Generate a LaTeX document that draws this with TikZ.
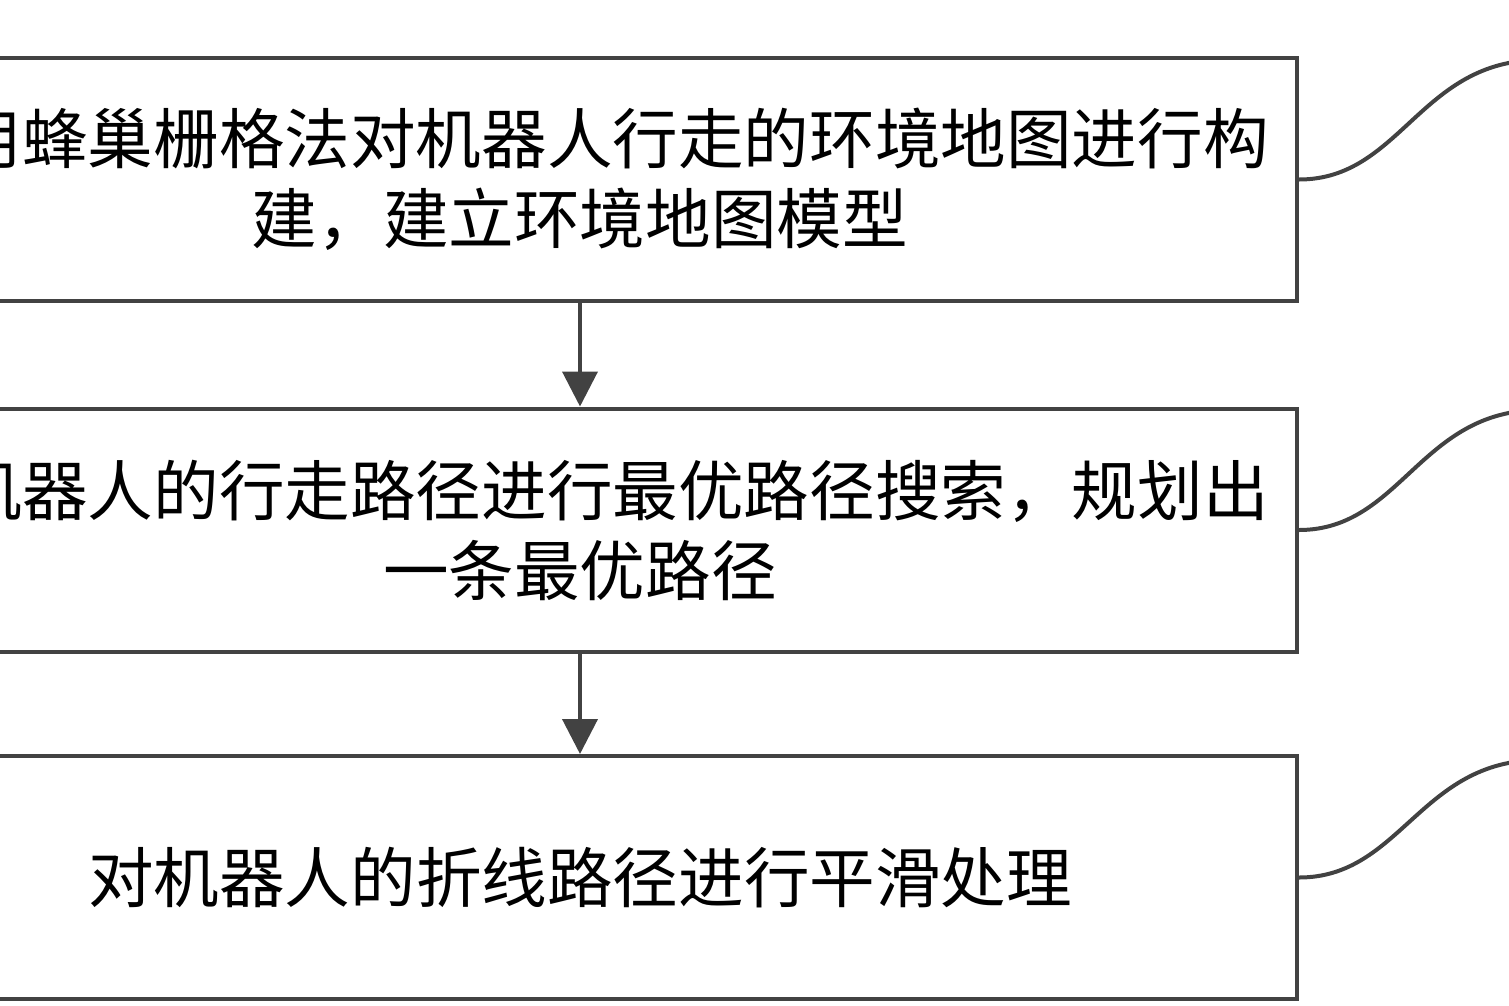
\documentclass[tikz,border=0pt]{standalone}
\usepackage{fontspec}
\newfontfamily\cjk{Noto Sans CJK SC}
\usetikzlibrary{arrows.meta}
\definecolor{linegray}{HTML}{424242}
\tikzset{
  stepbox/.style={draw=linegray, line width=4pt, minimum width=1434pt, minimum height=243pt,
    inner sep=0pt, align=center, font=\cjk\fontsize{65.6}{80}\selectfont},
  flow/.style={draw=linegray, line width=4pt, -{Triangle[width=35pt,length=35pt]}},
  lead/.style={draw=linegray, line width=4pt, line cap=round}
}
\begin{document}
\begin{tikzpicture}[x=1pt, y=-1pt]
\clip (0,0) rectangle (1509,1005);
% steps
\node[stepbox] (b1) at (580,179.5) {\phantom{利}用蜂巢栅格法对机器人行走的环境地图进行构\\建，建立环境地图模型};
\node[stepbox] (b2) at (580,530) {\phantom{对}机器人的行走路径进行最优路径搜索，规划出\\一条最优路径};
\node[stepbox] (b3) at (580,877.5) {对机器人的折线路径进行平滑处理};
\draw[flow] (b1) -- (b2);
\draw[flow] (b2) -- (b3);
% leaders to the step labels
\coordinate (s1) at (1540,60);
\coordinate (s2) at (1540,410);
\coordinate (s3) at (1540,760);
\draw[lead] (b1.east) .. controls +(102,0) and +(-120,0) .. (s1);
\draw[lead] (b2.east) .. controls +(102,0) and +(-120,0) .. (s2);
\draw[lead] (b3.east) .. controls +(102,0) and +(-120,0) .. (s3);
\end{tikzpicture}
\end{document}
